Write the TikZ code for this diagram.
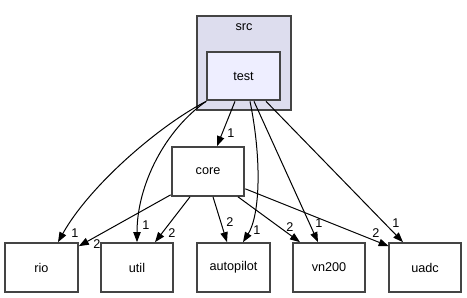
\documentclass[tikz,border=0pt]{standalone}
\usepackage{fontspec}
\setmainfont{Liberation Sans}
\usetikzlibrary{arrows.meta,calc}
\definecolor{clusterfill}{HTML}{DDDDEE}
\definecolor{testfill}{HTML}{EEEEFF}
\definecolor{boxline}{HTML}{444444}
\tikzset{
  dirbox/.style={draw=boxline, line width=1.5pt, fill=white, inner sep=0pt,
    minimum width=54.5pt, minimum height=36.5pt, font=\fontsize{9.5}{11}\selectfont},
  clusterbox/.style={draw=boxline, line width=1pt, fill=clusterfill, inner sep=0pt,
    minimum width=70.5pt, minimum height=70.5pt},
  dep/.style={draw=black, line width=0.75pt, -{Triangle[length=7.5pt,width=5.5pt]}},
  cnt/.style={inner sep=0pt, font=\fontsize{9.5}{11}\selectfont},
}
\begin{document}
\begin{tikzpicture}[x=0.75pt, y=-0.75pt]
  \useasboundingbox (0,0) rectangle (467,297);
  % directory cluster
  \node[clusterbox] (src) at (244,63) {};
  \node[cnt] (srclabel) at (244,27) {src};
  \node[dirbox, fill=testfill] (test) at (243.5,76) {test};
  % directories
  \node[dirbox] (core) at (208,171.5) {core};
  \node[dirbox] (rio) at (41.5,267.5) {rio};
  \node[dirbox] (util) at (137,267.5) {util};
  \node[dirbox] (autopilot) at (233.5,267.5) {autopilot};
  \node[dirbox] (vn200) at (329,267.5) {vn200};
  \node[dirbox] (uadc) at (425,267.5) {uadc};
  % dependencies of test
  \draw[dep] (test.south west) .. controls (160,125) and (90,185) .. ($(rio.north)+(16.5,0)$);
  \draw[dep] (test.south west) .. controls (165,130) and (137,185) .. (util.north);
  \draw[dep] ($(test.south)+(-8.5,0)$) -- ($(core.north)+(9,0)$);
  \draw[dep] ($(test.south)+(6.5,0)$) .. controls (262,160) and (260,215) .. ($(autopilot.north)+(9.5,0)$);
  \draw[dep] ($(test.south)+(10.5,0)$) -- ($(vn200.north)+(-11,0)$);
  \draw[dep] ($(test.south)+(22.5,0)$) -- ($(uadc.north)+(-22,0)$);
  % dependencies of core
  \draw[dep] ($(core.south west)+(0,-2)$) -- ($(rio.north east)+(0,4)$);
  \draw[dep] ($(core.south)+(-18,0)$) -- ($(util.north)+(18,0)$);
  \draw[dep] ($(core.south)+(5,0)$) -- ($(autopilot.north)+(-6.5,0)$);
  \draw[dep] ($(core.south)+(30,0)$) -- ($(vn200.north)+(-29,0)$);
  \draw[dep] ($(core.south east)+(0,-8)$) -- ($(uadc.north west)+(1,4)$);
  % edge counts
  \node[cnt] (ncore) at (231,133) {1};
  \node[cnt] (nrio1) at (75,233) {1};
  \node[cnt] (nrio2) at (97,244) {2};
  \node[cnt] (nutil1) at (146,225) {1};
  \node[cnt] (nutil2) at (172,233) {2};
  \node[cnt] (nauto2) at (230,222) {2};
  \node[cnt] (nauto1) at (257,230) {1};
  \node[cnt] (nvn2) at (290,227) {2};
  \node[cnt] (nvn1) at (319,223) {1};
  \node[cnt] (nuadc2) at (376,233) {2};
  \node[cnt] (nuadc1) at (396,223) {1};
\end{tikzpicture}
\end{document}
